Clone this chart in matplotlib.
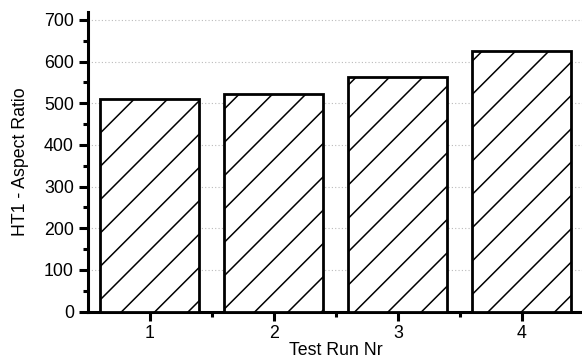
import numpy as np
import matplotlib.pyplot as plt
from matplotlib.ticker import MultipleLocator, FixedLocator

runs = [1, 2, 3, 4]
aspect_ratio = [510, 522, 562, 625]

plt.rcParams['font.family'] = ['Liberation Sans', 'DejaVu Sans']
plt.rcParams['hatch.linewidth'] = 1.1

fig = plt.figure(figsize=(5.82, 3.61), dpi=100)
ax = fig.add_axes([0.151, 0.137, 0.852, 0.83])

ax.bar(runs, aspect_ratio, width=0.8, color='white', edgecolor='black',
       linewidth=2.0, hatch='/', zorder=3)

ax.set_xlim(0.5, 4.5)
ax.set_ylim(0, 719)
ax.xaxis.set_major_locator(FixedLocator(runs))
ax.xaxis.set_minor_locator(FixedLocator([1.5, 2.5, 3.5]))
ax.yaxis.set_major_locator(MultipleLocator(100))
ax.yaxis.set_minor_locator(MultipleLocator(50))
ax.grid(axis='y', which='major', linestyle=(0, (1, 2)), color='#bbbbbb', linewidth=0.8, zorder=0)

for s in ['top', 'right']:
    ax.spines[s].set_visible(False)
for s in ['left', 'bottom']:
    ax.spines[s].set_linewidth(2.2)

ax.tick_params(which='major', direction='out', length=6.5, width=2.2, labelsize=12.8, pad=3.5)
ax.tick_params(which='minor', direction='out', length=3.5, width=2.2)
ax.set_xlabel('Test Run Nr', fontsize=12.8, labelpad=0)
ax.set_ylabel('HT1 - Aspect Ratio', fontsize=12.8, labelpad=11)

fig.savefig('out.png', dpi=100)
